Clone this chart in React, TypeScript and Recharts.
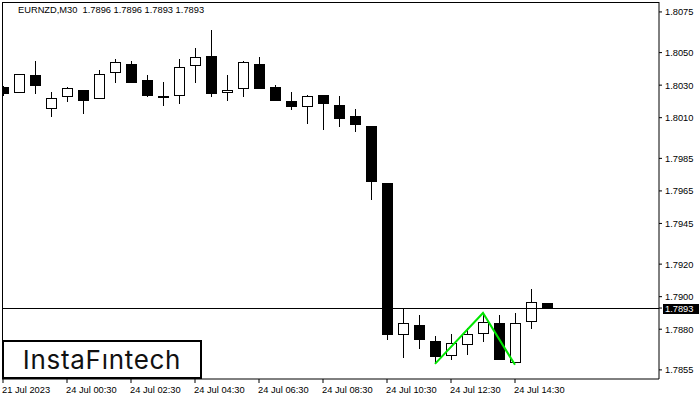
import { Bar, ComposedChart, Line, ReferenceLine, XAxis, YAxis } from "recharts";

const opens = [1.80289, 1.80258, 1.80363, 1.8016, 1.80234, 1.80271, 1.80222, 1.80381, 1.8043, 1.80332, 1.80234, 1.8024, 1.80424, 1.8048, 1.80258, 1.80283, 1.8043, 1.80289, 1.80203, 1.80172, 1.8024, 1.80179, 1.80111, 1.80049, 1.79699, 1.78771, 1.78827, 1.78728, 1.78642, 1.7871, 1.78778, 1.78839, 1.78599, 1.78851, 1.78962];
const closes = [1.80246, 1.80369, 1.80295, 1.80222, 1.80283, 1.80203, 1.80369, 1.80443, 1.80314, 1.80234, 1.80234, 1.80412, 1.80473, 1.80246, 1.80271, 1.80443, 1.80277, 1.80203, 1.80166, 1.80234, 1.80185, 1.80092, 1.80056, 1.79705, 1.78765, 1.78839, 1.78734, 1.7863, 1.78716, 1.78771, 1.78845, 1.78612, 1.78839, 1.78968, 1.78931];
const highs = [1.80295, 1.80369, 1.80449, 1.80258, 1.80289, 1.80271, 1.80394, 1.80461, 1.80449, 1.80363, 1.8032, 1.80461, 1.80529, 1.80639, 1.80363, 1.80449, 1.80473, 1.80301, 1.80258, 1.8024, 1.8024, 1.80234, 1.80154, 1.80049, 1.79699, 1.78931, 1.78888, 1.78759, 1.78771, 1.78808, 1.789, 1.78888, 1.789, 1.79048, 1.78962];
const lows = [1.80234, 1.80258, 1.80246, 1.80105, 1.80197, 1.80123, 1.80222, 1.80314, 1.80314, 1.80228, 1.80172, 1.80185, 1.80314, 1.80228, 1.80203, 1.80228, 1.80277, 1.80203, 1.80148, 1.80062, 1.80025, 1.80043, 1.80013, 1.79595, 1.78734, 1.78624, 1.78679, 1.78593, 1.78612, 1.78642, 1.78722, 1.78612, 1.78599, 1.78802, 1.78931];
const patternIndexes = [27, 30, 32];
const patternPrices = [1.78587, 1.789, 1.78581];

const lastPrice = 1.7893;
const priceTicks = [1.8075, 1.805, 1.803, 1.801, 1.7985, 1.7965, 1.7945, 1.792, 1.79, 1.7893, 1.788, 1.7855];
const timeTicks = [0, 4, 8, 12, 16, 20, 24, 28, 32];
const timeLabels = ["21 Jul 2023", "24 Jul 00:30", "24 Jul 02:30", "24 Jul 04:30", "24 Jul 06:30", "24 Jul 08:30", "24 Jul 10:30", "24 Jul 12:30", "24 Jul 14:30"];

const FONT = '"Liberation Sans", sans-serif';
const FONT_SIZE = 9.3;

const rows = opens.map((open, i) => {
  const p = patternIndexes.indexOf(i);
  return {
    i,
    open,
    close: closes[i],
    high: highs[i],
    low: lows[i],
    range: [lows[i], highs[i]],
    pattern: p >= 0 ? patternPrices[p] : null,
  };
});

function Candle(props: any) {
  const { x, y, width, height, payload } = props;
  const { open, close, high, low } = payload;
  const perUnit = height / (high - low);
  const cx = Math.round(x + width / 2) + 0.5;
  const top = Math.round(y + (high - Math.max(open, close)) * perUnit);
  const bottom = Math.round(y + (high - Math.min(open, close)) * perUnit);
  const bull = close >= open;
  const left = Math.max(cx - 5, 2);
  return (
    <g shapeRendering="crispEdges">
      <line x1={cx} x2={cx} y1={Math.round(y)} y2={Math.round(y + height)} stroke="#000" />
      {bull ? (
        <rect x={left} y={top + 0.5} width={cx + 5 - left} height={Math.max(bottom - top, 1)} fill="#fff" stroke="#000" />
      ) : (
        <rect x={left - 0.5} y={top} width={cx + 5.5 - left + 0.5} height={Math.max(bottom - top, 1)} fill="#000" />
      )}
    </g>
  );
}

function PriceTick({ x, y, payload }: any) {
  const isLast = payload.value === lastPrice;
  return (
    <g>
      {isLast && <rect x={x - 1} y={y - 4.5} width={36} height={10} fill="#000" shapeRendering="crispEdges" />}
      <text x={x + 1} y={y + 3.5} fontSize={FONT_SIZE} fontFamily={FONT} fill={isLast ? "#fff" : "#000"}>
        {payload.value.toFixed(4)}
      </text>
    </g>
  );
}

function TimeTick({ x, y, payload }: any) {
  const k = timeTicks.indexOf(payload.value);
  return (
    <text x={x - 1} y={y + 8} fontSize={FONT_SIZE} fontFamily={FONT} fill="#000">
      {timeLabels[k]}
    </text>
  );
}

function LastPriceLine({ x1, x2, y1, y2 }: any) {
  return <line x1={x1} x2={x2} y1={y1} y2={y2} stroke="#000" shapeRendering="crispEdges" />;
}

export default function App() {
  return (
    <div style={{ position: "absolute", left: 0, top: 0, width: 700, height: 400, background: "#fff" }}>
      <ComposedChart width={700} height={400} data={rows} margin={{ top: 2, right: 0, bottom: 0, left: 2 }}>
        <XAxis
          dataKey="i"
          type="number"
          domain={[-0.0625, 41]}
          allowDataOverflow
          ticks={timeTicks}
          interval={0}
          height={21}
          stroke="#000"
          tickSize={4}
          tick={<TimeTick />}
        />
        <YAxis
          orientation="right"
          type="number"
          domain={[1.78494, 1.80811]}
          allowDataOverflow
          ticks={priceTicks}
          interval={0}
          width={41}
          stroke="#000"
          tickSize={3}
          tick={<PriceTick />}
        />
        <Bar dataKey="range" barSize={11} shape={<Candle />} isAnimationActive={false} />
        <ReferenceLine
          y={lastPrice}
          shape={(p: any) => <LastPriceLine x1={p.x1} x2={p.x2} y1={p.y1} y2={p.y2} />}
        />
        <Line dataKey="pattern" stroke="#00e600" strokeWidth={2} dot={false} connectNulls isAnimationActive={false} />
      </ComposedChart>
      <div style={{ position: "absolute", left: 2, top: 2, width: 657, height: 377, borderTop: "1px solid #000", borderLeft: "1px solid #000", boxSizing: "border-box", pointerEvents: "none" }} />
      <div style={{ position: "absolute", left: 18, top: 4, fontFamily: FONT, fontSize: FONT_SIZE, lineHeight: "12px", whiteSpace: "pre", color: "#000" }}>
        EURNZD,M30  1.7896 1.7896 1.7893 1.7893
      </div>
      <div style={{ position: "absolute", left: 2, top: 340, width: 200, height: 39, boxSizing: "border-box", border: "2px solid #000", background: "#fff", fontFamily: "Inter, sans-serif", fontSize: 26, fontWeight: 400, letterSpacing: 0.7, lineHeight: "35px", textAlign: "center", color: "#111" }}>
        InstaFıntech
      </div>
    </div>
  );
}
